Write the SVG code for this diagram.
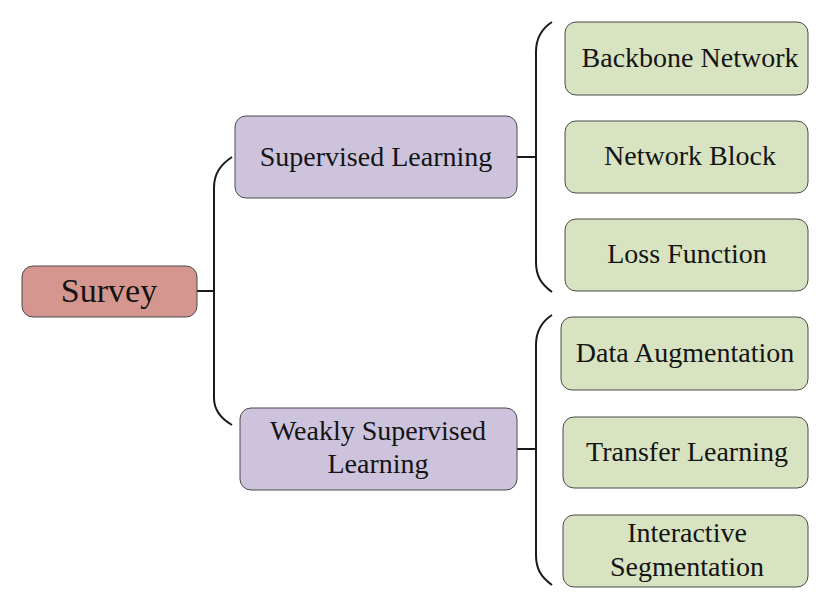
<svg xmlns="http://www.w3.org/2000/svg" width="831" height="609" viewBox="0 0 831 609">
<style>
.box{stroke:#4a4a4a;stroke-width:1}
.root{fill:#d5968f}
.mid{fill:#cdc3dc}
.leaf{fill:#d8e3c1}
text{font-family:"Liberation Serif","Times New Roman",serif;fill:#141414;text-anchor:middle}
.t{font-size:28px}
.big{font-size:34px}
.conn{fill:none;stroke:#1a1a1a;stroke-width:2}
</style>
<rect width="831" height="609" fill="#ffffff"/>
<g id="connectors">
<path class="conn" d="M197 291 H214"/>
<path class="conn" d="M232 157 C220 165 214 174 214 188 V398 C214 410 220 418 232 425"/>
<path class="conn" d="M517 157 H536"/>
<path class="conn" d="M552 22 C541 29 536 38 536 52 V262 C536 276 541 284 552 292"/>
<path class="conn" d="M517 449 H536"/>
<path class="conn" d="M552 315 C541 322 536 331 536 345 V555 C536 569 541 577 552 585"/>
</g>
<g id="survey">
<rect class="box root" x="22" y="266" width="175" height="51" rx="11"/>
<text class="big" x="109" y="302">Survey</text>
</g>
<g id="supervised">
<rect class="box mid" x="235" y="116" width="282" height="82" rx="11"/>
<text class="t" x="376" y="166">Supervised Learning</text>
</g>
<g id="weakly">
<rect class="box mid" x="240" y="408" width="277" height="82" rx="11"/>
<text class="t" x="378" y="440">Weakly Supervised</text>
<text class="t" x="378" y="473">Learning</text>
</g>
<g id="backbone">
<rect class="box leaf" x="565" y="22" width="243" height="73" rx="11"/>
<text class="t" x="690" y="67">Backbone Network</text>
</g>
<g id="block">
<rect class="box leaf" x="565" y="121" width="243" height="72" rx="11"/>
<text class="t" x="690" y="165">Network Block</text>
</g>
<g id="loss">
<rect class="box leaf" x="565" y="219" width="243" height="72" rx="11"/>
<text class="t" x="687" y="263">Loss Function</text>
</g>
<g id="augmentation">
<rect class="box leaf" x="561" y="317" width="247" height="73" rx="11"/>
<text class="t" x="685" y="362">Data Augmentation</text>
</g>
<g id="transfer">
<rect class="box leaf" x="563" y="417" width="245" height="71" rx="11"/>
<text class="t" x="687" y="461">Transfer Learning</text>
</g>
<g id="interactive">
<rect class="box leaf" x="563" y="515" width="245" height="72" rx="11"/>
<text class="t" x="687" y="542">Interactive</text>
<text class="t" x="687" y="576">Segmentation</text>
</g>
</svg>
